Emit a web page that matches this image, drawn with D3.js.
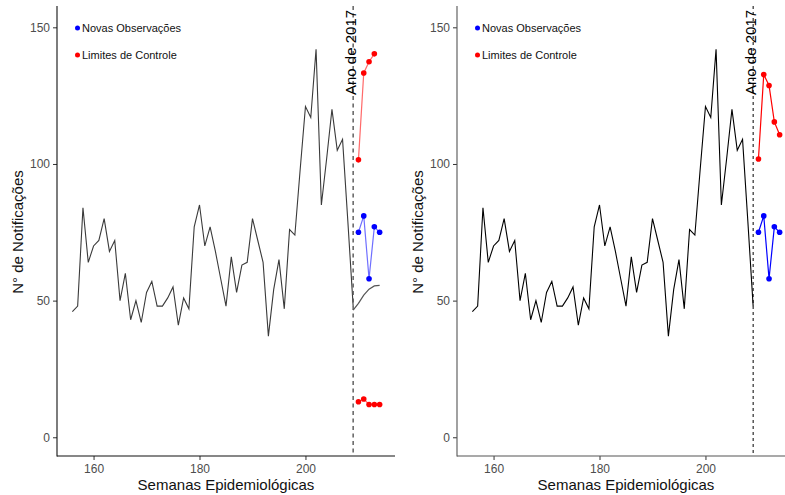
<!DOCTYPE html>
<html>
<head>
<meta charset="utf-8">
<script src="https://cdn.jsdelivr.net/npm/d3@7"></script>
<style>
  html, body { margin: 0; padding: 0; background: #fff; }
  svg { display: block; font-family: "Liberation Sans", Arial, sans-serif; }
</style>
</head>
<body>
<svg id="chart" width="785" height="495"></svg>
<script>
// Semanas epidemiológicas com notificações observadas
const semanas = [156,157,158,159,160,161,162,163,164,165,166,167,168,169,170,171,172,173,174,175,176,177,178,179,180,181,182,183,184,185,186,187,188,189,190,191,192,193,194,195,196,197,198,199,200,201,202,203,204,205,206,207,208,209];
const notificacoes = [46,48,84,64,70,72,80,68,72,50,60,43,50,42,53,57,48,48,51,55,41,51,47,77,85,70,77,68,58,48,66,53,63,64,80,72,64,37,54,65,47,76,74,98,121,117,142,85,102,120,105,109,79,48];

// Semanas de 2017
const semanasNovas = [210,211,212,213,214];
const novasObservacoes = [75,81,58,77,75];

// Painel esquerdo: curva ajustada e limites
const semanasAjuste = [209,210,211,212,213,214];
const ajuste = [46.5,49,52,54.2,55.4,55.6];
const semanasLimSupA = [210,211,212,213];
const limiteSuperiorA = [101.5,133.3,137.4,140.3];
const limiteInferiorA = [13,14,12,12,12];

// Painel direito: limite superior
const limiteSuperiorB = [101.8,132.7,128.7,115.4,110.7];

const semanaCorte = 209;
const xTicks = [160,180,200];
const yTicks = [0,50,100,150];

const svg = d3.select("#chart");

const y = d3.scaleLinear().domain([-6.85, 157.8]).range([456, 6]);

function panel(x0, x1, opts) {
  const g = svg.append("g");
  const x = d3.scaleLinear().domain([153.1, 216.9]).range([x0, x1]);

  // eixos
  const ax = g.append("g").attr("transform", `translate(0,456)`)
    .call(d3.axisBottom(x).tickValues(xTicks).tickSize(4).tickPadding(4).tickFormat(d3.format("d")));
  const ay = g.append("g").attr("transform", `translate(${x0},0)`)
    .call(d3.axisLeft(y).tickValues(yTicks).tickSize(4).tickPadding(3).tickFormat(d3.format("d")));
  [ax, ay].forEach(a => {
    a.select(".domain").remove();
    a.selectAll(".tick line").attr("stroke", "#333").attr("stroke-width", 1);
    a.selectAll(".tick text").attr("fill", "#4d4d4d").style("font-size", "12px")
      .style("font-family", "'Liberation Sans', Arial, sans-serif");
  });
  g.append("line").attr("x1", x0).attr("x2", x0).attr("y1", 6).attr("y2", 456.5)
    .attr("stroke", opts.axisColor).attr("stroke-width", 1.1);
  g.append("line").attr("x1", x0).attr("x2", x1).attr("y1", 456).attr("y2", 456)
    .attr("stroke", opts.axisColor).attr("stroke-width", 1.1);

  // títulos dos eixos
  g.append("text").attr("x", (x0 + Math.min(x1, 795)) / 2 - (opts.titleShift || 0)).attr("y", 490)
    .attr("text-anchor", "middle").style("font-size", "15px").attr("fill", "#111")
    .text("Semanas Epidemiológicas");
  g.append("text").attr("transform", `translate(${x0 - 34},232) rotate(-90)`)
    .attr("text-anchor", "middle").style("font-size", "15px").attr("fill", "#111")
    .text("N° de Notificações");

  const line = (xs, ys) => d3.line().x((d, i) => x(xs[i])).y(d => y(d))(ys);

  // série histórica
  g.append("path").attr("d", line(semanas, notificacoes))
    .attr("fill", "none").attr("stroke", opts.lineColor).attr("stroke-width", 1.1)
    .attr("stroke-linejoin", "miter");

  // linha vertical do início de 2017
  g.append("line").attr("x1", x(semanaCorte)).attr("x2", x(semanaCorte)).attr("y1", 6).attr("y2", 456)
    .attr("stroke", opts.cutColor).attr("stroke-width", opts.cutWidth)
    .attr("stroke-dasharray", opts.cutDash);
  g.append("text").attr("transform", `translate(${x(semanaCorte) + 2.5},95) rotate(-90)`)
    .style("font-size", "15px").attr("fill", "#000").text("Ano de 2017");

  opts.series.forEach(s => {
    g.append("path").attr("d", line(s.xs, s.ys)).attr("fill", "none")
      .attr("stroke", s.lineColor).attr("stroke-width", 1.2);
    if (s.points) {
      g.selectAll(null).data(s.ys).enter().append("circle")
        .attr("cx", (d, i) => x(s.xs[i])).attr("cy", d => y(d)).attr("r", 2.8)
        .attr("fill", s.points);
    }
  });

  // legenda
  const leg = [["Novas Observações", "#0000ff", 29], ["Limites de Controle", "#ff0000", 56]];
  leg.forEach(([t, c, yy]) => {
    g.append("circle").attr("cx", x0 + 20.5).attr("cy", yy - 1).attr("r", 2.5).attr("fill", c);
    g.append("text").attr("x", x0 + 25).attr("y", yy + 3).style("font-size", "11px")
      .attr("fill", "#111").text(t);
  });
}

panel(57, 395, {
  axisColor: "#111", lineColor: "#3a3a3a", cutColor: "#555", cutWidth: 1.4, cutDash: "4,3.5",
  series: [
    { xs: semanasAjuste, ys: ajuste, lineColor: "#555" },
    { xs: semanasLimSupA, ys: limiteSuperiorA, lineColor: "#ff6a6a", points: "#ff0000" },
    { xs: semanasNovas, ys: novasObservacoes, lineColor: "#6f6fff", points: "#0000ff" },
    { xs: semanasNovas, ys: limiteInferiorA, lineColor: "#ff6a6a", points: "#ff0000" }
  ]
});

panel(457, 795, {
  axisColor: "#555", lineColor: "#000", cutColor: "#000", cutWidth: 1, cutDash: "3,3", titleShift: 0,
  series: [
    { xs: semanasNovas, ys: limiteSuperiorB, lineColor: "#ff0000", points: "#ff0000" },
    { xs: semanasNovas, ys: novasObservacoes, lineColor: "#0000ff", points: "#0000ff" }
  ]
});
</script>
</body>
</html>
